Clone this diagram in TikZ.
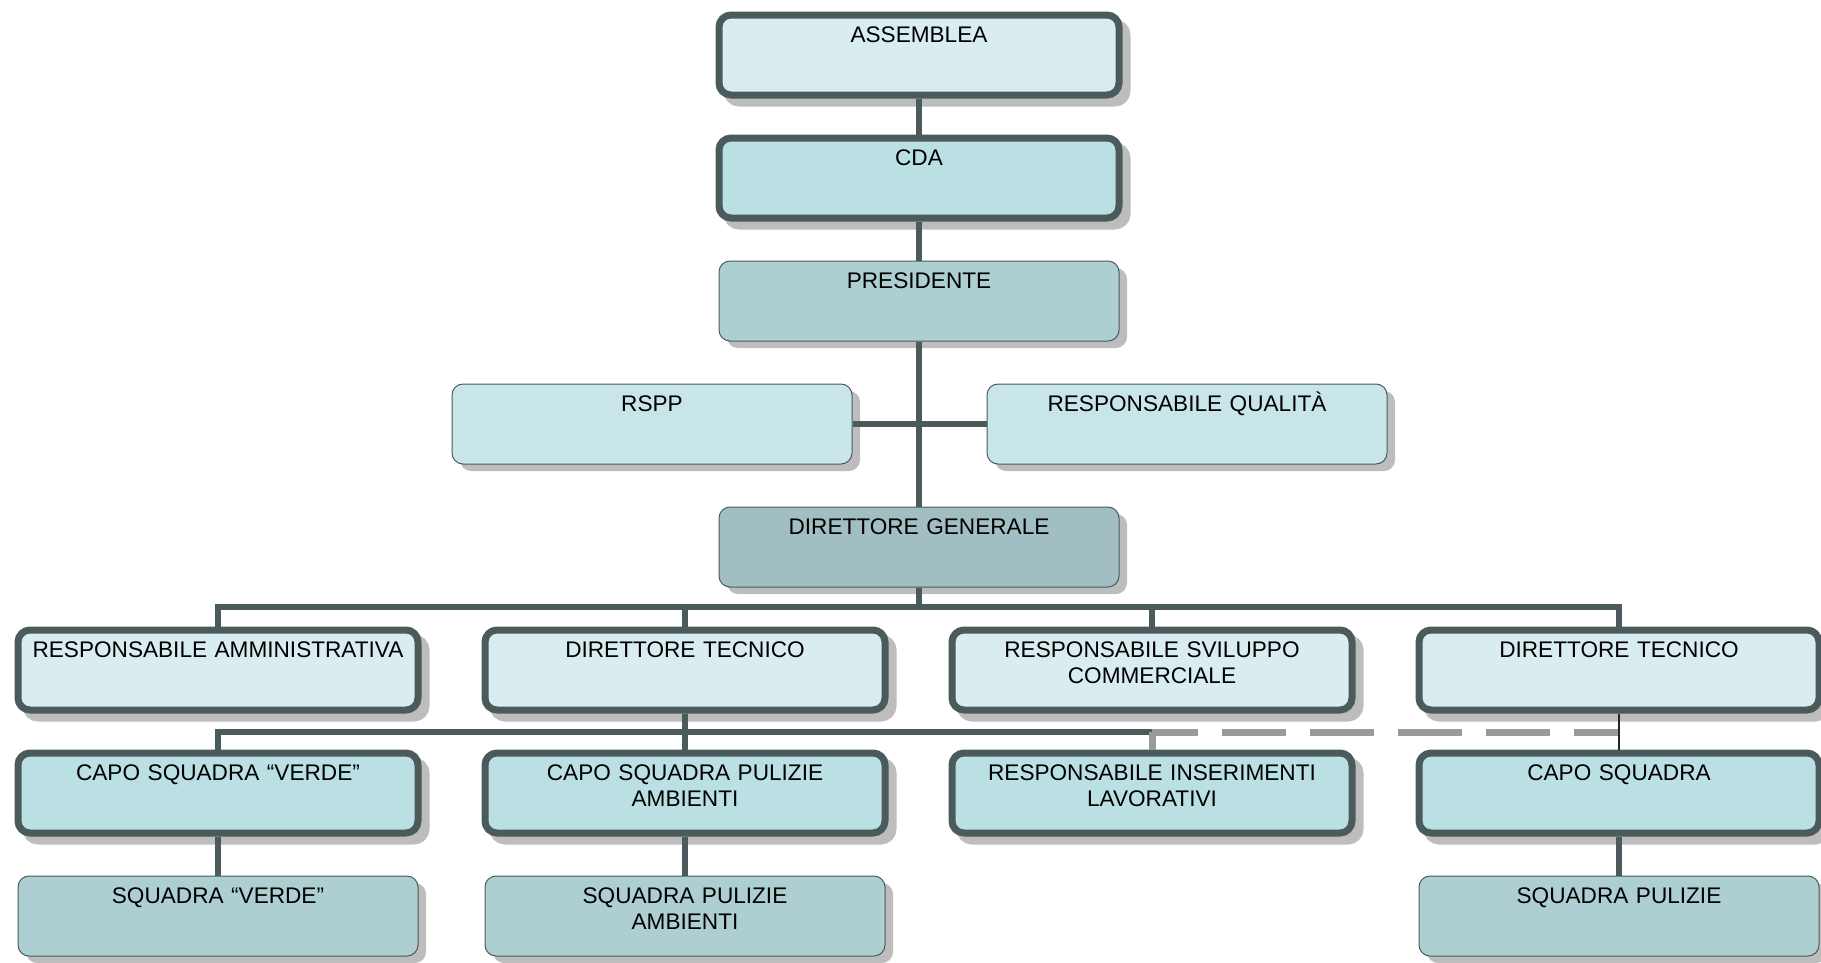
\documentclass[tikz,border=0pt]{standalone}
\usepackage{fontspec}
\setmainfont{Liberation Sans}
\usetikzlibrary{shadows}
\definecolor{edge}{HTML}{4B5A5B}
\definecolor{fillA}{HTML}{D9EDF0}
\definecolor{fillB}{HTML}{BBE0E3}
\definecolor{fillC}{HTML}{ADCFD2}
\definecolor{fillD}{HTML}{C8E6E9}
\definecolor{fillE}{HTML}{A1BFC2}
\definecolor{dashgray}{HTML}{9A9A9A}
\begin{document}
\begin{tikzpicture}[x=1pt,y=-1pt,
    box/.style={rectangle,text width=380pt,align=center,minimum width=400pt,
        inner sep=0pt,text height=27pt,text depth=53pt,
        font=\fontsize{22.6}{26.5}\selectfont},
    heavy/.style={box,draw=edge,line width=7pt,rounded corners=12pt,
        drop shadow={shadow xshift=8pt,shadow yshift=-8pt,opacity=1,
            fill=black!26,draw=black!26}},
    light/.style={box,draw=edge,line width=1pt,rounded corners=11pt,
        drop shadow={shadow xshift=8pt,shadow yshift=-7pt,opacity=1,
            fill=black!26}},
    link/.style={draw=edge,line width=6pt},
    greylink/.style={draw=dashgray,line width=7pt},
    thinlink/.style={draw=black!85,line width=2pt},
    ]
\useasboundingbox (0,0) rectangle (1821,962);
\def\colA{218}  % columns of the lower rows
\def\colB{685}
\def\colC{1152}
\def\colD{1619}
\def\mid{919}   % central column

    %% Top of the chart
    \node[heavy,fill=fillA] (asm) at (\mid,55) {ASSEMBLEA};
    \node[heavy,fill=fillB] (cda) at (\mid,178) {CDA};
    \node[light,fill=fillC] (pres) at (\mid,301) {PRESIDENTE};
    \node[light,fill=fillD] (rspp) at (652,424) {RSPP};
    \node[light,fill=fillD] (qual) at (1187,424) {RESPONSABILE QUALITÀ};
    \node[light,fill=fillE] (dg) at (\mid,547) {DIRETTORE GENERALE};

    %% First row under the director
    \node[heavy,fill=fillA] (amm) at (\colA,670) {RESPONSABILE AMMINISTRATIVA};
    \node[heavy,fill=fillA] (dtA) at (\colB,670) {DIRETTORE TECNICO};
    \node[heavy,fill=fillA] (comm) at (\colC,670) {RESPONSABILE SVILUPPO\\COMMERCIALE};
    \node[heavy,fill=fillA] (dtB) at (\colD,670) {DIRETTORE TECNICO};

    %% Team leaders
    \node[heavy,fill=fillB] (capoV) at (\colA,793) {CAPO SQUADRA “VERDE”};
    \node[heavy,fill=fillB] (capoA) at (\colB,793) {CAPO SQUADRA PULIZIE\\AMBIENTI};
    \node[heavy,fill=fillB] (inser) at (\colC,793) {RESPONSABILE INSERIMENTI\\LAVORATIVI};
    \node[heavy,fill=fillB] (capoP) at (\colD,793) {CAPO SQUADRA};

    %% Teams
    \node[light,fill=fillC] (sqV) at (\colA,916) {SQUADRA “VERDE”};
    \node[light,fill=fillC] (sqA) at (\colB,916) {SQUADRA PULIZIE\\AMBIENTI};
    \node[light,fill=fillC] (sqP) at (\colD,916) {SQUADRA PULIZIE};

    % Connectors of the central column
    \draw[link] (asm) -- (cda);
    \draw[link] (cda) -- (pres);
    \draw[link] (pres) -- (dg);
    \draw[link] (rspp) -- (qual);

    % Bus under the general director
    \coordinate (busA) at (\mid,607);
    \draw[link] (dg) -- (busA);
    \draw[link] (amm.north) |- (busA) -| (dtB.north);
    \draw[link] (dtA.north) -- (dtA.north |- busA);
    \draw[link] (comm.north) -- (comm.north |- busA);

    % Bus under the first technical director
    \coordinate (busB) at (\colB,732);
    \draw[link] (dtA) -- (busB);
    \draw[link] (capoV.north) |- (inser.north |- busB);
    \draw[link] (busB) -- (capoA);
    \draw[greylink] (inser.north |- busB) -- (inser.north);
    \draw[greylink,dash pattern=on 64pt off 24pt,dash phase=18pt]
        (inser.north |- busB) -- (capoP.north |- busB);
    \draw[thinlink] (dtB) -- (capoP);

    % Teams
    \draw[link] (capoV) -- (sqV);
    \draw[link] (capoA) -- (sqA);
    \draw[link] (capoP) -- (sqP);
\end{tikzpicture}
\end{document}
